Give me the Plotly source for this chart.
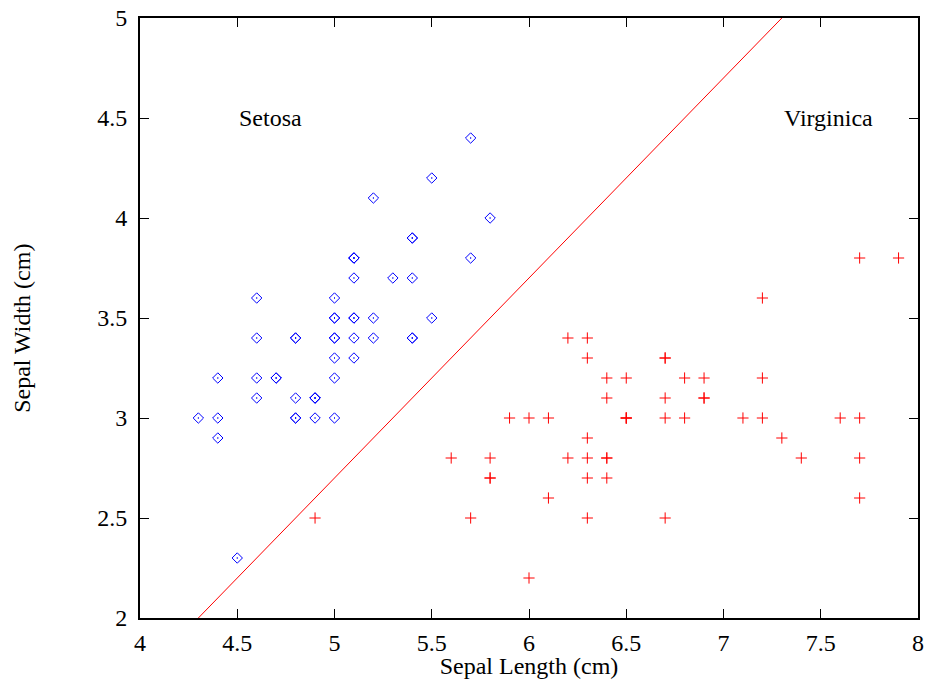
import plotly.graph_objects as go

setosa_length = [5.1, 4.9, 4.7, 4.6, 5.0, 5.4, 4.6, 5.0, 4.4, 4.9, 5.4, 4.8, 4.8, 4.3, 5.8, 5.7, 5.4, 5.1, 5.7, 5.1,
                 5.4, 5.1, 4.6, 5.1, 4.8, 5.0, 5.0, 5.2, 5.2, 4.7, 4.8, 5.4, 5.2, 5.5, 4.9, 5.0, 5.5, 4.9, 4.4, 5.1,
                 5.0, 4.5, 4.4, 5.0, 5.1, 4.8, 5.1, 4.6, 5.3, 5.0]
setosa_width = [3.5, 3.0, 3.2, 3.1, 3.6, 3.9, 3.4, 3.4, 2.9, 3.1, 3.7, 3.4, 3.0, 3.0, 4.0, 4.4, 3.9, 3.5, 3.8, 3.8,
                3.4, 3.7, 3.6, 3.3, 3.4, 3.0, 3.4, 3.5, 3.4, 3.2, 3.1, 3.4, 4.1, 4.2, 3.1, 3.2, 3.5, 3.1, 3.0, 3.4,
                3.5, 2.3, 3.2, 3.5, 3.8, 3.0, 3.8, 3.2, 3.7, 3.3]
virginica_length = [6.3, 5.8, 7.1, 6.3, 6.5, 7.6, 4.9, 7.3, 6.7, 7.2, 6.5, 6.4, 6.8, 5.7, 5.8, 6.4, 6.5, 7.7, 7.7, 6.0,
                    6.9, 5.6, 7.7, 6.3, 6.7, 7.2, 6.2, 6.1, 6.4, 7.2, 7.4, 7.9, 6.4, 6.3, 6.1, 7.7, 6.3, 6.4, 6.0, 6.9,
                    6.7, 6.9, 5.8, 6.8, 6.7, 6.7, 6.3, 6.5, 6.2, 5.9]
virginica_width = [3.3, 2.7, 3.0, 2.9, 3.0, 3.0, 2.5, 2.9, 2.5, 3.6, 3.2, 2.7, 3.0, 2.5, 2.8, 3.2, 3.0, 3.8, 2.6, 2.2,
                   3.2, 2.8, 2.8, 2.7, 3.3, 3.2, 2.8, 3.0, 2.8, 3.0, 2.8, 3.8, 2.8, 2.8, 2.6, 3.0, 3.4, 3.1, 3.0, 3.1,
                   3.1, 3.1, 2.7, 3.2, 3.3, 3.0, 2.5, 3.0, 3.4, 3.0]
boundary_x = [4.3, 7.3]
boundary_y = [2.0, 5.0]
labels = ["Setosa", "Virginica"]
label_x = [4.5, 7.3]
label_y = [4.5, 4.5]
x_title = "Sepal Length (cm)"
y_title = "Sepal Width (cm)"

FONT = "Liberation Serif, Times New Roman, serif"
FS = 24
fig = go.Figure()
fig.add_trace(go.Scatter(x=setosa_length, y=setosa_width, mode="markers",
                         marker=dict(symbol="diamond-open-dot", size=8, color="#0000ff", line=dict(width=1, color="#0000ff")),
                         showlegend=False))
fig.add_trace(go.Scatter(x=virginica_length, y=virginica_width, mode="markers",
                         marker=dict(symbol="cross-thin-open", size=8, color="#ff0000", line=dict(width=1, color="#ff0000")),
                         showlegend=False))
fig.add_trace(go.Scatter(x=boundary_x, y=boundary_y, mode="lines",
                         line=dict(color="#ff0000", width=1), showlegend=False))
for t, x, y in zip(labels, label_x, label_y):
    fig.add_annotation(x=x, y=y, text=t, showarrow=False, xanchor="left", yanchor="middle",
                       font=dict(family=FONT, size=FS, color="black"))

# y axis title placed as a rotated annotation (slightly below plot centre, as in the reference)
fig.add_annotation(xref="paper", yref="paper", x=0, y=0.482, xshift=-118, text=y_title, textangle=-90,
                   showarrow=False, xanchor="center", yanchor="middle",
                   font=dict(family=FONT, size=FS, color="black"))

axis_common = dict(showline=True, linecolor="black", linewidth=2, mirror="ticks", ticks="inside",
                   ticklen=9, tickwidth=1, tickcolor="black", showgrid=False, zeroline=False,
                   ticklabeloverflow="allow",
                   tickfont=dict(family=FONT, size=FS, color="black"))
fig.update_xaxes(range=[4, 8], dtick=0.5, tick0=4, ticklabelstandoff=2,
                 title=dict(text=x_title, font=dict(family=FONT, size=FS, color="black"), standoff=16),
                 **axis_common)
fig.update_yaxes(range=[2, 5], dtick=0.5, tick0=2, ticklabelstandoff=6, **axis_common)
fig.update_layout(width=925, height=679, margin=dict(l=140, r=7, t=18, b=61, autoexpand=False),
                  plot_bgcolor="white", paper_bgcolor="white", font=dict(family=FONT, size=FS))
fig.write_html("out.html", config={"displayModeBar": False},
               post_script="document.body.style.margin='0';document.body.style.overflow='hidden';")
